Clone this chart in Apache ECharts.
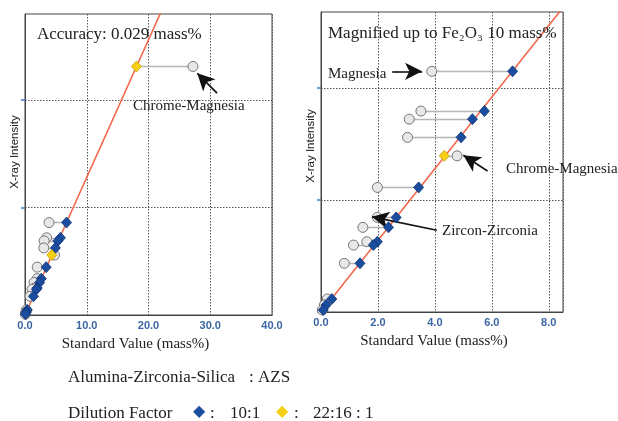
<!DOCTYPE html>
<html>
<head>
<meta charset="utf-8">
<script src="https://cdn.jsdelivr.net/npm/echarts@6/dist/echarts.min.js"></script>
<style>html,body{margin:0;padding:0;background:#fff}#c{width:618px;height:421px}</style>
</head>
<body>
<div id="c"></div>
<script>
// ---- data (intensity in a common unit; right chart grid interval = 1) ----
const blueStd   = [6.73, 5.74, 5.32, 4.92, 3.43, 2.64, 2.37, 1.98, 1.84, 1.37, 0.38, 0.18, 0.08];
const blueInt   = [2.15, 1.795, 1.723, 1.56, 1.113, 0.845, 0.756, 0.628, 0.598, 0.435, 0.116, 0.0625, 0.018];
const blueRaw   = [3.89, 3.51, 3.10, 3.04, 1.98, 1.98, 1.47, 1.61, 1.14, 0.82, 0.22, 0.12, 0.05];
const yellowStd = [18.05, 4.33];
const yellowInt = [5.78, 1.395];
const yellowRaw = [27.2, 4.78];
const fitLine   = [[0, 0], [25, 8.0]];
const leftXTicks  = [0, 10, 20, 30, 40];
const rightXTicks = [0, 2, 4, 6, 8];
const leftYTicks  = [0, 2.5, 5];
const rightYTicks = [0, 1, 2];

const SERIF = 'Liberation Serif';
const BLUE = '#1b4d9e', YEL = '#f6d016', RED = '#f2694c';

function pts(xs, ys, xmax) {
  const out = [];
  xs.forEach((x, i) => { if (x <= xmax) out.push([x, ys[i]]); });
  return out;
}
function conns(a, b, ys, xmax) {
  const out = [];
  a.forEach((x, i) => { if (x <= xmax && b[i] <= xmax) out.push({coords: [[x, ys[i]], [b[i], ys[i]]]}); });
  return out;
}
const allStd = blueStd.concat(yellowStd), allRaw = blueRaw.concat(yellowRaw), allInt = blueInt.concat(yellowInt);

function arrow(p, q) { return [{coord: p}, {coord: q}]; }

function seriesFor(idx, xmax) {
  return [
    {type: 'lines', coordinateSystem: 'cartesian2d', xAxisIndex: idx, yAxisIndex: idx, z: 2,
     data: conns(allStd, allRaw, allInt, xmax), lineStyle: {color: '#b5b5b5', width: 1.3, opacity: 1}, silent: true},
    {type: 'line', xAxisIndex: idx, yAxisIndex: idx, data: fitLine, showSymbol: false, clip: true, z: 3,
     lineStyle: {color: RED, width: 1.6}, silent: true},
    {type: 'scatter', xAxisIndex: idx, yAxisIndex: idx, data: pts(allRaw, allInt, xmax), symbol: 'circle', symbolSize: 10, z: 4,
     itemStyle: {color: '#e8e8eb', borderColor: '#767676', borderWidth: 1, opacity: 1}},
    {type: 'scatter', xAxisIndex: idx, yAxisIndex: idx, data: pts(blueStd, blueInt, xmax), symbol: 'diamond', symbolSize: [10, 11], z: 5,
     itemStyle: {color: BLUE, borderColor: '#0e3275', borderWidth: 0.8, opacity: 1}},
    {type: 'scatter', xAxisIndex: idx, yAxisIndex: idx, data: pts(yellowStd, yellowInt, xmax), symbol: 'diamond', symbolSize: [10, 11], z: 5,
     itemStyle: {color: YEL, borderColor: '#c99a00', borderWidth: 0.8, opacity: 1}}
  ];
}

const arrowStyle = {symbol: ['none', 'arrow'], symbolSize: [13, 17], silent: true, label: {show: false},
  lineStyle: {color: '#111', width: 1.6, type: 'solid'}, emphasis: {disabled: true}};

const series = seriesFor(0, 40).concat(seriesFor(1, 8.5));
series.push({type: 'scatter', xAxisIndex: 0, yAxisIndex: 0, data: [], z: 6,
  markLine: Object.assign({data: [arrow([31.1, 5.16], [27.9, 5.62])]}, arrowStyle)});
series.push({type: 'scatter', xAxisIndex: 1, yAxisIndex: 1, data: [], z: 6,
  markLine: Object.assign({data: [
    arrow([2.5, 2.15], [3.55, 2.15]),
    arrow([5.85, 1.26], [5.0, 1.40]),
    arrow([4.07, 0.73], [1.79, 0.85])
  ]}, arrowStyle)});

function xAx(idx, max, interval, ticks, padRight) {
  return {type: 'value', gridIndex: idx, min: 0, max: max, interval: interval,
    name: 'Standard Value (mass%)', nameLocation: 'middle', nameGap: 22,
    nameTextStyle: {fontFamily: SERIF, fontSize: 15, color: '#222', padding: [0, padRight, 0, 0]},
    axisLine: {show: true, lineStyle: {color: '#444', width: 1}},
    axisTick: {show: false},
    axisLabel: {customValues: ticks, formatter: v => v.toFixed(1), margin: 5,
      fontFamily: 'Liberation Sans', fontSize: 11, fontWeight: 'bold', color: '#3b66a3'},
    splitLine: {show: true, lineStyle: {color: '#555', type: [1.5, 1.5], width: 1}}};
}
function yAx(idx, max, interval, ticks) {
  return {type: 'value', gridIndex: idx, min: 0, max: max, interval: interval,
    axisLine: {show: true, lineStyle: {color: '#444', width: 1}},
    axisTick: {show: true, inside: false, length: 4, customValues: ticks, lineStyle: {color: '#3b7fd0', width: 1.5}},
    axisLabel: {show: false},
    splitLine: {show: true, lineStyle: {color: '#555', type: [1.5, 1.5], width: 1}}};
}

const txt = (x, y, t, size, extra) => Object.assign({type: 'text', left: x, top: y, z: 100,
  style: {text: t, fontFamily: SERIF, fontSize: size, fill: '#222'}}, extra || {});

const option = {
  animation: false,
  backgroundColor: '#fff',
  grid: [
    {left: 25, top: 14, width: 247, height: 301, show: true, borderColor: '#444', borderWidth: 1, backgroundColor: 'transparent'},
    {left: 321, top: 12, width: 242, height: 300, show: true, borderColor: '#444', borderWidth: 1, backgroundColor: 'transparent'}
  ],
  xAxis: [xAx(0, 40, 10, leftXTicks, 26), xAx(1, 8.5, 2, rightXTicks, 16)],
  yAxis: [yAx(0, 7.0, 2.5, leftYTicks), yAx(1, 2.68, 1, rightYTicks)],
  series: series,
  graphic: [
    txt(37, 26, 'Accuracy: 0.029 mass%', 17),
    txt(328, 25, 'Magnified up to Fe\u2082O\u2083 10 mass%', 17),
    txt(133, 99, 'Chrome-Magnesia', 15),
    txt(328, 67, 'Magnesia', 15),
    txt(506, 162, 'Chrome-Magnesia', 15),
    txt(442, 224, 'Zircon-Zirconia', 15),
    {type: 'text', x: 15, y: 152, rotation: Math.PI / 2, z: 100,
     style: {text: 'X-ray Intensity', fontFamily: 'Liberation Sans', fontSize: 11.5, fill: '#222', align: 'center', verticalAlign: 'middle'}},
    {type: 'text', x: 311, y: 146, rotation: Math.PI / 2, z: 100,
     style: {text: 'X-ray Intensity', fontFamily: 'Liberation Sans', fontSize: 11.5, fill: '#222', align: 'center', verticalAlign: 'middle'}},
    txt(68, 369, 'Alumina-Zirconia-Silica', 17),
    txt(249, 369, ': AZS', 17),
    txt(68, 405, 'Dilution Factor', 17),
    txt(193, 404, '◆', 16, {style: {text: '◆', fontSize: 16, fill: BLUE, fontFamily: 'DejaVu Sans'}}),
    txt(210, 405, ':', 17),
    txt(230, 405, '10:1', 17),
    txt(276, 404, '◆', 16, {style: {text: '◆', fontSize: 16, fill: YEL, fontFamily: 'DejaVu Sans'}}),
    txt(294, 405, ':', 17),
    txt(313, 405, '22:16 : 1', 17)
  ]
};
const chart = echarts.init(document.getElementById('c'), null, {renderer: 'canvas'});
chart.setOption(option);
</script>
</body>
</html>
